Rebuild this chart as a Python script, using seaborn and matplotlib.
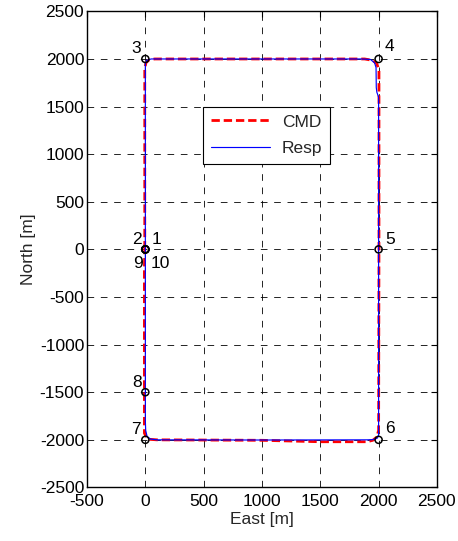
import matplotlib
matplotlib.use("Agg")
import matplotlib.pyplot as plt
from matplotlib.lines import Line2D
import seaborn as sns
import pandas as pd

# Commanded path (waypoints)
cmd_east = [-5, -5, 5, 30, 80, 1880, 1950, 1985, 2003, 2003, 2003, 2000, 1985, 1950, 1900, 1500, 1000, 100, 40, 10, -8, -8, -5]
cmd_north = [0, 1900, 1960, 1990, 2000, 2000, 1985, 1950, 1880, 1650, 0, -1900, -1970, -2005, -2020, -2020, -2005, -2000, -1995, -1975, -1930, -200, 0]

# Response path (waypoints)
resp_east = [0, 0, 10, 50, 100, 1850, 1930, 1965, 1978, 1980, 1985, 2000, 2000, 2000, 1990, 1950, 1900, 1000, 100, 45, 15, 3, 0, 0]
resp_north = [0, 1950, 1985, 2000, 2000, 2000, 1995, 1960, 1910, 1700, 1650, 1600, 0, -1950, -1980, -1998, -2000, -2002, -2000, -1992, -1965, -1900, -1800, 0]

# Waypoint markers and labels
wp_east = [0, 0, 0, 2000, 2000, 2000, 0, 0, 0, 0]
wp_north = [0, 0, 2000, 2000, 0, -2000, -2000, -1500, 0, 0]
wp_labels = ["1", "2", "3", "4", "5", "6", "7", "8", "9", "10"]
label_offsets_px = [(11, 10), (-8, 10), (-9, 10), (11, 12), (12, 10), (11, 11), (-9, 10), (-8, 10), (-7, -14), (15, -14)]

x_ticks = [-500, 0, 500, 1000, 1500, 2000, 2500]
y_ticks = [-2500, -2000, -1500, -1000, -500, 0, 500, 1000, 1500, 2000, 2500]

sns.set_style("white")
plt.rcParams["font.family"] = ["Liberation Sans", "DejaVu Sans"]
plt.rcParams["axes.unicode_minus"] = False

FS = 12.5

fig = plt.figure(figsize=(4.58, 5.41), dpi=100)
ax = fig.add_axes([0.190, 0.099, 0.764, 0.880])

cmd_df = pd.DataFrame({"East": cmd_east, "North": cmd_north})
resp_df = pd.DataFrame({"East": resp_east, "North": resp_north})

cmd_style = dict(color="#ff0000", linewidth=2.0, linestyle=(0, (3, 1.4)))
resp_style = dict(color="#0000ff", linewidth=0.85, linestyle="-")

sns.lineplot(data=cmd_df, x="East", y="North", sort=False, estimator=None, ax=ax,
             zorder=3, legend=False, **cmd_style)
sns.lineplot(data=resp_df, x="East", y="North", sort=False, estimator=None, ax=ax,
             zorder=4, legend=False, **resp_style)

wp_df = pd.DataFrame({"East": wp_east, "North": wp_north})
sns.scatterplot(data=wp_df, x="East", y="North", ax=ax, marker="o", s=26,
                facecolor="none", edgecolor="black", linewidth=1.1, zorder=5, legend=False)

for xv, yv, lab, off in zip(wp_east, wp_north, wp_labels, label_offsets_px):
    ax.annotate(lab, (xv, yv), xytext=off, textcoords="offset pixels",
                ha="center", va="center", fontsize=FS, color="black")

ax.set_xlim(-500, 2500)
ax.set_ylim(-2500, 2500)
ax.set_xticks(x_ticks)
ax.set_yticks(y_ticks)
ax.set_xlabel("East [m]", fontsize=FS, labelpad=2)
ax.set_ylabel("North [m]", fontsize=FS, labelpad=3)
ax.tick_params(direction="in", length=4, width=0.8, top=True, right=True,
               labelsize=FS, colors="black", pad=2)
ax.tick_params(axis="x", pad=5)
ax.grid(True, color="black", linestyle=(0, (8, 8)), linewidth=0.6)
for sp in ax.spines.values():
    sp.set_color("black")
    sp.set_linewidth(1.0)

handles = [Line2D([], [], **cmd_style), Line2D([], [], **resp_style)]
leg = ax.legend(handles, ["CMD", "Resp"], loc="upper left", bbox_to_anchor=(0.331, 0.800),
                fontsize=FS, frameon=True, fancybox=False, framealpha=1, edgecolor="black",
                handlelength=3.4, borderpad=0.45, labelspacing=0.65, handletextpad=0.7,
                borderaxespad=0.0)
leg.get_frame().set_linewidth(0.8)

fig.savefig("out.png", dpi=100)
